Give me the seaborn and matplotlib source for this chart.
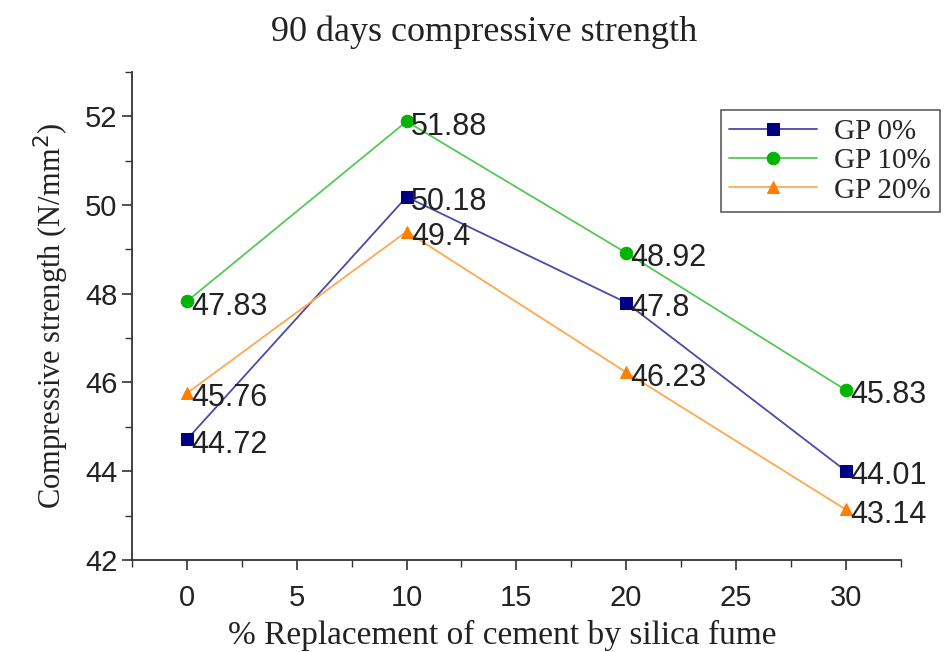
import matplotlib
matplotlib.use("Agg")
import matplotlib.pyplot as plt
from matplotlib.ticker import MultipleLocator
import seaborn as sns
import pandas as pd

# --- Data ---
replacement = [0, 10, 20, 30]
gp0 = [44.72, 50.18, 47.8, 44.01]
gp10 = [47.83, 51.88, 48.92, 45.83]
gp20 = [45.76, 49.4, 46.23, 43.14]
series_names = ["GP 0%", "GP 10%", "GP 20%"]

df = pd.concat([
    pd.DataFrame({"x": replacement, "y": vals, "series": name})
    for name, vals in zip(series_names, [gp0, gp10, gp20])
])

sns.set_theme(style="ticks")
plt.rcParams['font.family'] = ['Liberation Sans', 'DejaVu Sans']

line_colors = {"GP 0%": "#4a4aa8", "GP 10%": "#55c855", "GP 20%": "#ffa850"}
marker_colors = {"GP 0%": "#000080", "GP 10%": "#00b400", "GP 20%": "#ff7f00"}
markers = {"GP 0%": "s", "GP 10%": "o", "GP 20%": "^"}

fig = plt.figure(figsize=(9.44, 6.52), dpi=100)
ax = fig.add_axes([0.14, 0.141, 0.814, 0.749])

for name in series_names:
    sub = df[df["series"] == name]
    sns.lineplot(data=sub, x="x", y="y", ax=ax, color=line_colors[name],
                 linewidth=1.3, marker=markers[name], markersize=9,
                 markerfacecolor=marker_colors[name],
                 markeredgecolor=marker_colors[name], label=name)
    for xv, yv in zip(sub["x"], sub["y"]):
        ax.text(xv + 0.2, yv - 0.12, f"{yv:g}", fontsize=22, va="center",
                ha="left", color="#222222")

ax.set_xlim(-2.5, 32.5)
ax.set_ylim(42, 53)
ax.xaxis.set_major_locator(MultipleLocator(5))
ax.xaxis.set_minor_locator(MultipleLocator(2.5))
ax.yaxis.set_minor_locator(MultipleLocator(1))
ax.set_yticks([42, 44, 46, 48, 50, 52])
ax.tick_params(axis="both", which="major", length=7, width=1.2, labelsize=21,
               color="#333333", labelcolor="#222222")
ax.tick_params(axis="x", which="major", pad=10)
ax.tick_params(axis="both", which="minor", length=5, width=1.0, color="#333333")
for s in ["top", "right"]:
    ax.spines[s].set_visible(False)
for s in ["left", "bottom"]:
    ax.spines[s].set_color("#333333")
    ax.spines[s].set_linewidth(1.3)

serif = ['Liberation Serif', 'DejaVu Serif']
ax.set_title("90 days compressive strength", fontsize=26, family=serif,
             pad=22, color="#222222", x=0.458)
ax.set_xlabel("% Replacement of cement by silica fume", fontsize=24,
              family=serif, labelpad=6, color="#222222", x=0.482)
ax.set_ylabel("Compressive strength (N/mm$^2$)", fontsize=22,
              family=serif, labelpad=10, color="#222222")

leg = ax.legend(loc="upper right", bbox_to_anchor=(1.07, 0.952),
                prop={"family": serif, "size": 21}, frameon=True,
                fancybox=False, handlelength=3.0, borderpad=0.3,
                labelspacing=0.1, handletextpad=0.6)
leg.get_frame().set_edgecolor("#333333")
leg.get_frame().set_linewidth(1.2)

fig.savefig("out.png", dpi=100)
